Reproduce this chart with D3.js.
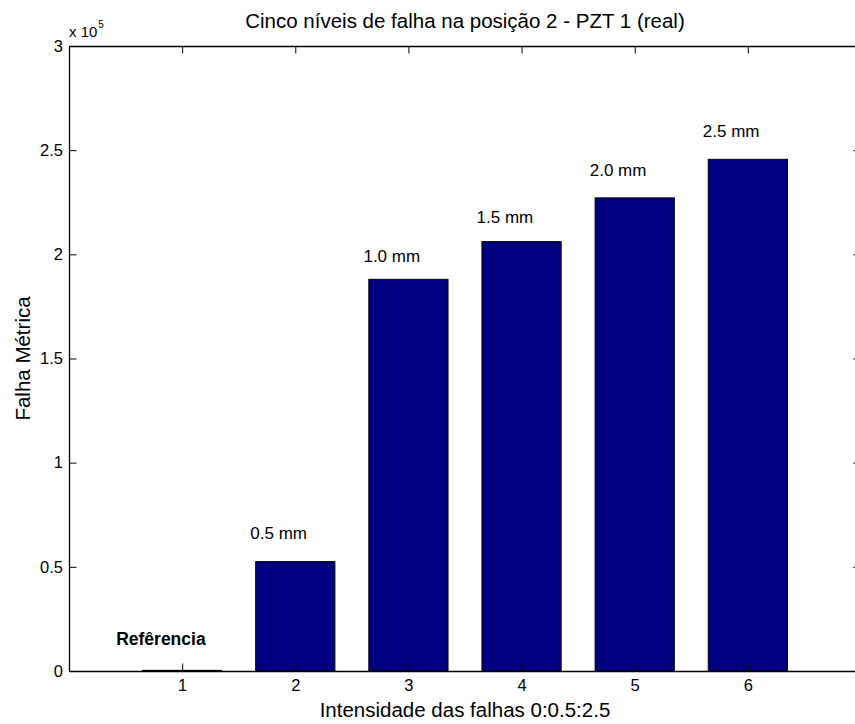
<!DOCTYPE html>
<html>
<head>
<meta charset="utf-8">
<script src="https://cdn.jsdelivr.net/npm/d3@7"></script>
<style>
  html, body { margin: 0; padding: 0; background: #fff; overflow: hidden; }
  svg { display: block; font-family: "Liberation Sans", Arial, sans-serif; }
</style>
</head>
<body>
<div id="chart"></div>
<script>
// Failure metric per damage level (position 2, PZT 1)
const categories = [1, 2, 3, 4, 5, 6];
const values = [300, 52500, 188000, 206100, 227100, 245600];
const labels = ["Refêrencia", "0.5 mm", "1.0 mm", "1.5 mm", "2.0 mm", "2.5 mm"];
const labelY = [12500, 63200, 196500, 214900, 237600, 256500];
const yTicks = [0, 0.5e5, 1e5, 1.5e5, 2e5, 2.5e5, 3e5];
const xTicks = [1, 2, 3, 4, 5, 6];

const W = 855, H = 724;
const m = { left: 69, right: 861, top: 46, bottom: 671 };
const FONT = "'Liberation Sans', Arial, sans-serif";

const svg = d3.select("#chart").append("svg")
  .attr("width", W).attr("height", H);

const x = d3.scaleLinear().domain([0, 7]).range([m.left, m.right]);
const y = d3.scaleLinear().domain([0, 3e5]).range([m.bottom, m.top]);
const barW = 0.7;

// bars
svg.append("g").selectAll("rect")
  .data(categories)
  .join("rect")
  .attr("x", (d) => x(d - barW / 2))
  .attr("y", (d, i) => y(values[i]))
  .attr("width", x(barW) - x(0))
  .attr("height", (d, i) => y(0) - y(values[i]))
  .attr("fill", "#000080")
  .attr("stroke", "#000")
  .attr("stroke-width", 1);

// text annotations above bars
svg.append("g").selectAll("text")
  .data(categories)
  .join("text")
  .attr("x", (d, i) => i === 0 ? x(d) - 66 : x(d) - 45)
  .attr("y", (d, i) => y(labelY[i]))
  .attr("font-size", (d, i) => i === 0 ? 17.5 : 17)
  .attr("font-weight", (d, i) => i === 0 ? "bold" : "normal")
  .attr("fill", "#000")
  .text((d, i) => labels[i]);

// axes (ticks pointing inward; the right edge of the box falls past the page)
const tickLen = 7.5;
const fmtY = (v) => d3.format("~g")(v / 1e5);

const axB = svg.append("g").attr("transform", `translate(0,${m.bottom})`)
  .call(d3.axisBottom(x).tickValues(xTicks).tickSizeInner(-tickLen).tickSizeOuter(0).tickFormat(d3.format("d")));
const axT = svg.append("g").attr("transform", `translate(0,${m.top})`)
  .call(d3.axisTop(x).tickValues(xTicks).tickSizeInner(-tickLen).tickSizeOuter(0).tickFormat(""));
const axL = svg.append("g").attr("transform", `translate(${m.left},0)`)
  .call(d3.axisLeft(y).tickValues(yTicks).tickSizeInner(-tickLen).tickSizeOuter(0).tickPadding(6).tickFormat(fmtY));
const axR = svg.append("g").attr("transform", `translate(${m.right},0)`)
  .call(d3.axisRight(y).tickValues(yTicks).tickSizeInner(-tickLen).tickSizeOuter(0).tickFormat(""));
axR.select(".domain").remove();

[axB, axT, axL, axR].forEach((g) => {
  g.selectAll(".domain").attr("stroke", "#000").attr("stroke-width", 1.3);
  g.selectAll(".tick line").attr("stroke", "#000");
  g.selectAll("text").attr("font-size", 16.5).attr("fill", "#000")
    .attr("font-family", FONT);
});
axB.selectAll(".tick text").attr("y", 20).attr("dy", 0);

// exponent marker
const expo = svg.append("text")
  .attr("x", m.left).attr("y", 37)
  .attr("font-size", 15).attr("fill", "#000");
expo.append("tspan").text("x 10");
expo.append("tspan").attr("dx", 1).attr("dy", -9.5).attr("font-size", 10).text("5");

// title
svg.append("text")
  .attr("x", (m.left + m.right) / 2).attr("y", 27.5)
  .attr("text-anchor", "middle")
  .attr("font-size", 20.5).attr("fill", "#000")
  .text("Cinco níveis de falha na posição 2 - PZT 1 (real)");

// axis labels
svg.append("text")
  .attr("x", (m.left + m.right) / 2).attr("y", 717)
  .attr("text-anchor", "middle")
  .attr("font-size", 20.5).attr("fill", "#000")
  .text("Intensidade das falhas 0:0.5:2.5");

svg.append("text")
  .attr("transform", `translate(30,${(m.top + m.bottom) / 2}) rotate(-90)`)
  .attr("text-anchor", "middle")
  .attr("font-size", 20.5).attr("fill", "#000")
  .text("Falha Métrica");
</script>
</body>
</html>
